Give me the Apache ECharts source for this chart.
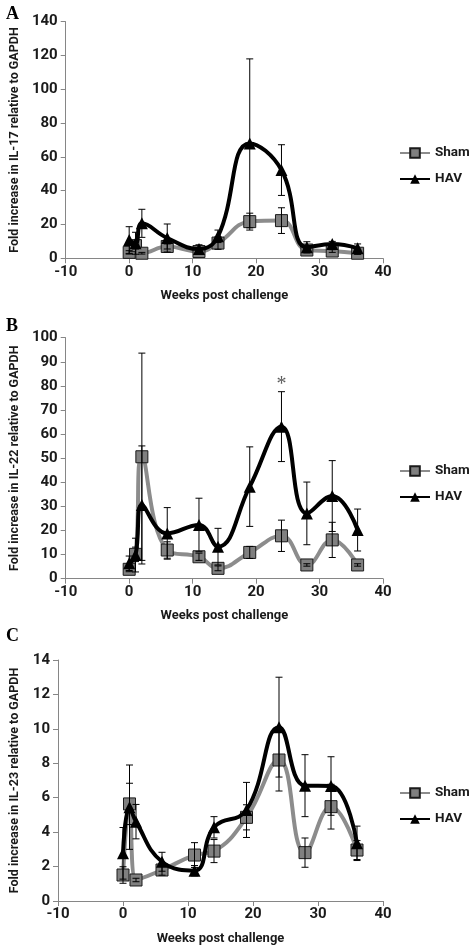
<!DOCTYPE html>
<html>
<head>
<meta charset="utf-8">
<script src="https://cdn.jsdelivr.net/npm/echarts@6/dist/echarts.min.js"></script>
<style>
html,body{margin:0;padding:0;background:#fff;}
#chart{width:473px;height:948px;}
</style>
</head>
<body>
<div id="chart"></div>
<script>
// ---- data ----
const weeks = [0, 1, 2, 6, 11, 14, 19, 24, 28, 32, 36];
const xTicks = [-10, 0, 10, 20, 30, 40];

const panelLabels = ['A', 'B', 'C'];
const yNames = ['Fold increase in IL-17 relative to GAPDH', 'Fold increase in IL-22 relative to GAPDH', 'Fold increase in IL-23 relative to GAPDH'];
const xName = 'Weeks post challenge';
const seriesNames = ['Sham', 'HAV'];

const yTicksA = [0, 20, 40, 60, 80, 100, 120, 140];
const yTicksB = [0, 10, 20, 30, 40, 50, 60, 70, 80, 90, 100];
const yTicksC = [0, 2, 4, 6, 8, 10, 12, 14];

const shamA    = [3.5, 7.5, 3, 7, 4, 9, 21.7, 22.3, 4.9, 4.3, 3];
const shamAErr = [1, 2, 0.5, 1.5, 1, 3.7, 5, 7.6, 1, 0.8, 0.7];
const havA     = [10.8, 8.9, 20.7, 12, 5.5, 13, 68, 52.2, 6.5, 8.5, 6];
const havAErr  = [7.9, 6.5, 8.3, 8.3, 2.5, 3.7, 50, 15, 3.3, 1.5, 2.5];

const shamB    = [3.9, 10.1, 50.6, 11.9, 9.1, 4.3, 10.9, 17.8, 5.7, 16.1, 5.7];
const shamBErr = [1, 3, 43, 3.4, 1.5, 1, 2.5, 6.5, 0.5, 7.3, 0.5];
const havB     = [6.4, 9.8, 30.6, 18.8, 22.3, 13.3, 38.2, 63.1, 27.1, 34.3, 20.2];
const havBErr  = [3, 7, 24.5, 10.7, 11.1, 7.6, 16.5, 14.5, 13, 14.7, 8.7];

const shamC    = [1.51, 5.64, 1.22, 1.8, 2.67, 2.9, 4.86, 8.19, 2.81, 5.48, 2.96];
const shamCErr = [0.48, 1.2, 0.1, 0.3, 0.72, 0.67, 0.73, 1.8, 0.85, 1.3, 0.55];
const havC     = [2.77, 5.45, 4.61, 2.28, 1.76, 4.28, 5.29, 10.1, 6.7, 6.68, 3.35];
const havCErr  = [1.5, 2.45, 1.0, 0.55, 0.3, 0.62, 1.6, 2.9, 1.8, 1.7, 1.0];

const significance = [[24, 80.5]]; // panel B asterisk
const significanceLabel = '*';

// ---- layout ----
const panels = [
  { sham: shamA, shamErr: shamAErr, hav: havA, havErr: havAErr, yTicks: yTicksA },
  { sham: shamB, shamErr: shamBErr, hav: havB, havErr: havBErr, yTicks: yTicksB },
  { sham: shamC, shamErr: shamCErr, hav: havC, havErr: havCErr, yTicks: yTicksC }
];
const gridTops = [21.7, 337.7, 660];
const gridHeights = [236.6, 241, 241];
const legendTops = [146, 464, 786];
const labelTops = [0, 312, 622];

const tickFont = { fontFamily: 'Roboto', fontWeight: 'bold', fontSize: 15, color: '#1a1a1a' };
const legendFont = { fontFamily: 'Roboto', fontWeight: 'bold', fontSize: 13.5, color: '#1a1a1a' };
const xNameFont = { fontFamily: 'Roboto', fontWeight: 'bold', fontSize: 13, color: '#1a1a1a' };
const yNameFont = { fontFamily: 'Roboto', fontWeight: 'bold', fontSize: 12.5, color: '#1a1a1a' };

function errRender(params, api) {
  const x = api.value(0), lo = api.value(1), hi = api.value(2);
  const p1 = api.coord([x, hi]);
  const p2 = api.coord([x, lo]);
  const w = 3.5;
  const st = { stroke: '#000', lineWidth: 1 };
  return {
    type: 'group',
    children: [
      { type: 'line', shape: { x1: p1[0], y1: p1[1], x2: p2[0], y2: p2[1] }, style: st },
      { type: 'line', shape: { x1: p1[0] - w, y1: p1[1], x2: p1[0] + w, y2: p1[1] }, style: st },
      { type: 'line', shape: { x1: p2[0] - w, y1: p2[1], x2: p2[0] + w, y2: p2[1] }, style: st }
    ]
  };
}

const grids = [], xAxes = [], yAxes = [], series = [], legends = [], titles = [];
panels.forEach((p, i) => {
  grids.push({ left: 52, width: 331, top: gridTops[i], height: gridHeights[i] });
  xAxes.push({
    type: 'value', gridIndex: i,
    min: xTicks[0], max: xTicks[xTicks.length - 1], interval: xTicks[1] - xTicks[0],
    splitLine: { show: false },
    axisLine: { onZero: false, lineStyle: { color: '#868686', width: 1 } },
    axisTick: { show: true, length: 5, lineStyle: { color: '#868686' } },
    axisLabel: Object.assign({ margin: 6 }, tickFont),
    name: xName, nameLocation: 'middle', nameGap: 31, nameTextStyle: xNameFont
  });
  yAxes.push({
    type: 'value', gridIndex: i,
    min: p.yTicks[0], max: p.yTicks[p.yTicks.length - 1], interval: p.yTicks[1] - p.yTicks[0],
    splitLine: { show: false },
    axisLine: { show: true, onZero: false, lineStyle: { color: '#868686', width: 1 } },
    axisTick: { show: true, length: 5, lineStyle: { color: '#868686' } },
    axisLabel: Object.assign({ margin: 8 }, tickFont),
    name: yNames[i], nameLocation: 'middle', nameGap: 37, nameRotate: 90, nameTextStyle: yNameFont
  });
  series.push({
    type: 'line', name: seriesNames[0], xAxisIndex: i, yAxisIndex: i,
    data: weeks.map((w, k) => [w, p.sham[k]]),
    smooth: 0.45, symbol: 'rect', symbolSize: 12,
    lineStyle: { color: '#8c8c8c', width: 4 },
    itemStyle: { color: '#808080', borderColor: '#1a1a1a', borderWidth: 1 },
    z: 2
  });
  series.push({
    type: 'line', name: seriesNames[1], xAxisIndex: i, yAxisIndex: i,
    data: weeks.map((w, k) => [w, p.hav[k]]),
    smooth: 0.45, symbol: 'triangle', symbolSize: 12,
    lineStyle: { color: '#000', width: 4 },
    itemStyle: { color: '#000' },
    z: 3
  });
  series.push({
    type: 'custom', xAxisIndex: i, yAxisIndex: i, renderItem: errRender,
    data: weeks.map((w, k) => [w, p.sham[k] - p.shamErr[k], p.sham[k] + p.shamErr[k]]),
    encode: { x: 0, y: [1, 2] }, z: 4, silent: true
  });
  series.push({
    type: 'custom', xAxisIndex: i, yAxisIndex: i, renderItem: errRender,
    data: weeks.map((w, k) => [w, p.hav[k] - p.havErr[k], p.hav[k] + p.havErr[k]]),
    encode: { x: 0, y: [1, 2] }, z: 4, silent: true
  });
  legends.push({
    data: seriesNames, orient: 'vertical', left: 399, top: legendTops[i], padding: 0,
    itemWidth: 30, itemHeight: 12, itemGap: 12,
    textStyle: legendFont
  });
  titles.push({
    text: panelLabels[i], left: 1, top: labelTops[i],
    textStyle: { fontFamily: 'Liberation Serif', fontWeight: 'bold', fontSize: 18, color: '#000' }
  });
});

series.push({
  type: 'scatter', xAxisIndex: 1, yAxisIndex: 1,
  data: significance, symbolSize: 0, silent: true,
  label: { show: true, position: 'inside', formatter: significanceLabel,
           fontFamily: 'Liberation Serif', fontSize: 20, color: '#333' }
});

const chart = echarts.init(document.getElementById('chart'));
chart.setOption({
  animation: false,
  backgroundColor: '#fff',
  title: titles,
  grid: grids,
  xAxis: xAxes,
  yAxis: yAxes,
  legend: legends,
  series: series
});
</script>
</body>
</html>
